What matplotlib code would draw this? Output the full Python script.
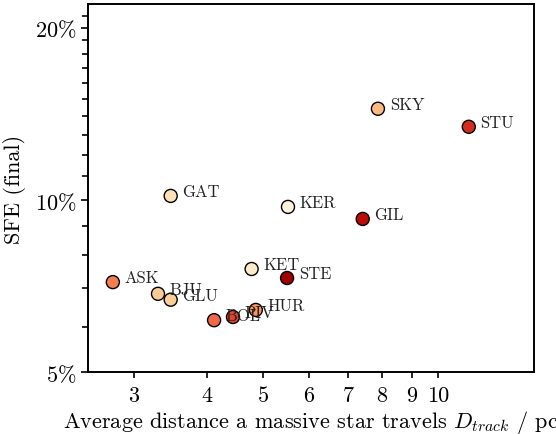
"""Scatter of final SFE against average massive-star travel distance."""

import matplotlib
import matplotlib.pyplot as plt
from matplotlib.ticker import FixedLocator, FixedFormatter, NullFormatter

matplotlib.use('Agg')

plt.rcParams['font.family'] = 'serif'
plt.rcParams['font.serif'] = ['cmr10']
plt.rcParams['mathtext.fontset'] = 'cm'
plt.rcParams['axes.formatter.use_mathtext'] = True

# Data
names = ['ASK', 'BJU', 'GLU', 'BOL', 'PIV', 'HUR', 'KET', 'STE',
         'KER', 'GAT', 'GIL', 'SKY', 'STU']
d_track = [2.76, 3.30, 3.47, 4.12, 4.44, 4.86, 4.78, 5.50,
           5.52, 3.47, 7.42, 7.88, 11.29]
sfe_final = [7.18, 6.85, 6.69, 6.16, 6.24, 6.42, 7.57, 7.30,
             9.72, 10.16, 9.26, 14.43, 13.42]
colour_value = [0.55, 0.30, 0.28, 0.62, 0.70, 0.48, 0.12, 0.92,
                0.05, 0.17, 0.84, 0.38, 0.76]

x_ticks = [3, 4, 5, 6, 7, 8, 9, 10]
y_major = [5, 10, 20]
y_minor = [6, 7, 8, 9, 11, 12, 13, 14, 15, 16, 17, 18, 19, 21]

fig = plt.figure(figsize=(5.56, 4.35), dpi=100)
ax = fig.add_axes([0.158, 0.1425, 0.802, 0.846])

ax.set_xscale('log')
ax.set_yscale('log')

ax.scatter(d_track, sfe_final, c=colour_value, cmap='OrRd', vmin=0, vmax=1,
           s=88, edgecolors='black', linewidths=1.0, zorder=3)

# Name labels sit just right of each point
for name, x, y in zip(names, d_track, sfe_final):
    ax.annotate(name, (x, y), xytext=(8.5, 0), textcoords='offset points',
                ha='left', va='baseline', fontsize=12, color='#222222')

ax.set_xlim(2.5, 14.6)
ax.set_ylim(5, 22)

ax.xaxis.set_major_locator(FixedLocator(x_ticks))
ax.xaxis.set_major_formatter(FixedFormatter([str(t) for t in x_ticks]))
ax.xaxis.set_minor_locator(FixedLocator([]))
ax.xaxis.set_minor_formatter(NullFormatter())

ax.yaxis.set_major_locator(FixedLocator(y_major))
ax.yaxis.set_major_formatter(FixedFormatter([r'$%d\%%$' % t for t in y_major]))
ax.yaxis.set_minor_locator(FixedLocator(y_minor))
ax.yaxis.set_minor_formatter(NullFormatter())

ax.tick_params(axis='both', which='both', direction='out', length=4, width=1.2,
               labelsize=16)
ax.tick_params(axis='y', which='major', length=5)
ax.tick_params(axis='x', which='major', pad=6)
for spine in ax.spines.values():
    spine.set_linewidth(1.4)

ax.set_xlabel(r'Average distance a massive star travels $D_{track}$ / pc',
              fontsize=16, labelpad=2)
ax.set_ylabel('SFE (final)', fontsize=16, labelpad=6)

plt.savefig('out.png', dpi=100)
plt.close(fig)
